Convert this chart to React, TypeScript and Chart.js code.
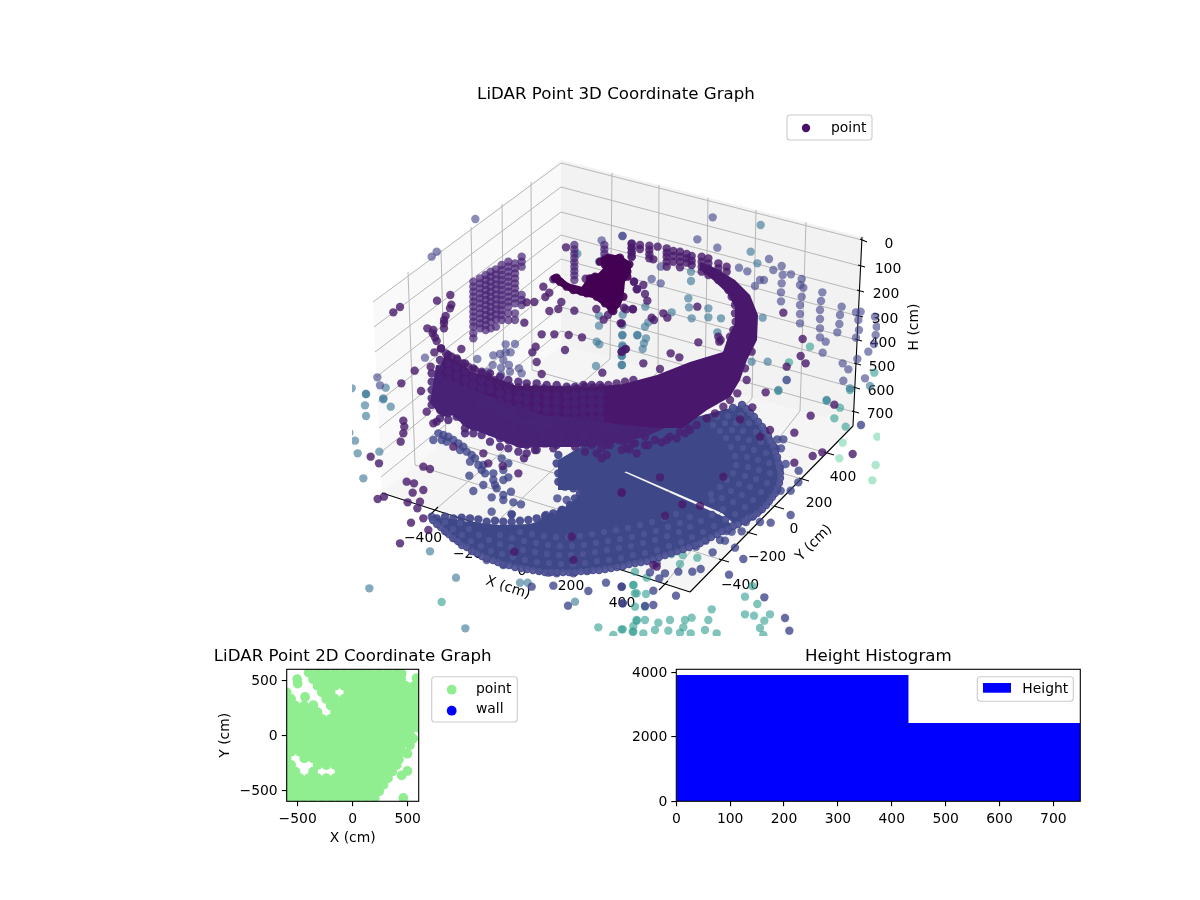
import React, { useEffect, useRef } from "react";
import { Chart, registerables } from "chart.js";

Chart.register(...registerables);
Chart.defaults.font.family = '"DejaVu Sans"';
Chart.defaults.font.size = 13.9;
Chart.defaults.color = "#000";

type P = [number, number];
type Seg = [number, number, number, number];

/* ---------- 2D plan view: each row is one Y value and the X values read along it ---------- */
const planRows: [number, number[]][] = [
  [570, [-400,-320,-240,-160,-80,0,80,160,240,320,400]],
  [510, [-360,-280,-200,-120,-40,40,120,200,280,360,440]],
  [450, [-320,-240,-160,-80,0,80,160,240,320,400,480,560]],
  [390, [-600,-280,-200,-40,40,120,200,280,360,440,520,600]],
  [330, [-560,-240,-160,-80,0,80,160,240,320,400,480,560]],
  [270, [-600,-520,-440,-200,-120,-40,40,120,200,280,360,440,520,600]],
  [210, [-560,-480,-400,-320,-160,-80,0,80,160,240,320,400,480,560]],
  [150, [-600,-520,-440,-360,-280,-200,-120,-40,40,120,200,280,360,440,520,600]],
  [90, [-560,-480,-400,-320,-240,-160,-80,0,80,160,240,320,400,480,560]],
  [30, [-600,-520,-440,-360,-280,-200,-120,-40,40,120,200,280,360,440,520]],
  [-30, [-560,-480,-400,-320,-240,-160,-80,0,80,160,240,320,400,480]],
  [-90, [-600,-520,-440,-360,-280,-200,-120,-40,40,120,200,280,360,440,520]],
  [-150, [-560,-480,-400,-320,-240,-160,-80,0,80,160,240,320,400,445]],
  [-210, [-600,-440,-360,-280,-200,-120,-40,40,120,200,280,360]],
  [-270, [-560,-320,-240,-160,-80,0,80,160,240,320,400]],
  [-330, [-600,-520,-360,-120,-40,40,120,200,280,360]],
  [-390, [-560,-480,-400,-320,-240,-160,-80,0,80,160,240,320]],
  [-450, [-600,-520,-440,-360,-280,-200,-120,-40,40,120,200,280]],
  [-510, [-560,-480,-400,-320,-240,-160,-80,0,80,160,240]],
  [-570, [-600,-520,-440,-360,-280,-200,-120,-40,40,120,200]],
];
const planExtras: P[] = [[445,560],[580,520],[-500,470],[-505,510],[-433,348],[-358,273],[590,70],[551,-30],[497,-167],[420,-220],[497,-324],[445,-364],[460,-570]];
const planTicks = [-500, 0, 500];

/* ---------- histogram ---------- */
const binEdges = [0, 431, 750];
const binCounts = [3910, 2425];
const histXTicks = [0, 100, 200, 300, 400, 500, 600, 700];
const histYTicks = [0, 2000, 4000];

/* ---------- 3D view: panes, grid and axes in view-plane units ---------- */
const paneLeft: P[] = [[373,302],[561,160],[561,345],[382,493],[373,302]];
const paneBack: P[] = [[561,160],[862,237],[853,426],[561,345],[561,160]];
const paneFloor: P[] = [[382,493],[561,345],[853,426],[690,592],[382,493]];
const gridBackH: Seg[] = [[561,163,862,240],[561,187,860,266],[561,212,859,291],[561,235,858,316],[561,259,857,340],[561,283,856,364],[561,307,855,388],[561,331,854,412]];
const gridLeftH: Seg[] = [[561,163,373,302],[561,187,374,327],[561,212,375,352],[561,235,376,377],[561,259,378,402],[561,283,379,428],[561,307,380,453],[561,331,381,477]];
const gridBackV: Seg[] = [[612,173,610,359],[659,185,658,372],[708,198,705,385],[756,210,752,398],[806,222,800,411]];
const gridLeftV: Seg[] = [[408,272,415,465],[441,250,446,440],[471,227,475,416],[502,204,504,392],[531,182,532,370]];
const gridFloorY: Seg[] = [[415,465,722,560],[446,440,750,533],[475,416,777,507],[504,392,802,479],[532,370,827,453]];
const gridFloorX: Seg[] = [[435,510,610,359],[490,528,658,372],[545,545,705,385],[604,564,752,398],[665,584,800,411]];
const axisEdges: Seg[] = [[382,493,690,592],[690,592,853,426],[853,426,862,237]];
const ticksH: Seg[] = [[860,239,867,242],[858,265,865,267],[857,290,864,292],[856,315,863,317],[855,339,862,341],[854,363,861,365],[853,387,860,389],[852,411,859,413]];
const ticksX: Seg[] = [[438,507,429,516],[493,525,484,534],[548,542,539,551],[607,561,598,570],[668,581,659,590]];
const ticksY: Seg[] = [[719,559,729,562],[747,532,757,535],[774,506,784,509],[799,478,809,481],[824,452,834,455]];
const labelsH: [string, number, number][] = [["0",889,243],["100",888,268],["200",886,293],["300",885,318],["400",883,342],["500",882,366],["600",881,390],["700",880,413]];
const labelsX: [string, number, number][] = [["\u2212400",423,537],["\u2212200",472,553],["0",522,570],["200",571,585],["400",622,602]];
const labelsY: [string, number, number][] = [["\u2212400",740,584],["\u2212200",767,556],["0",794,528],["200",819,502],["400",843,476]];

/* ---------- 3D view: solid masses of overlapping points ---------- */
const ringMass: P[] = [[445,355],[460,363],[473,373],[490,376],[517,386],[553,386],[590,387],[623,384],[657,375],[690,362],[723,352],[727,340],[735,323],[735,307],[727,293],[713,280],[700,270],[700,262],[715,268],[735,280],[750,295],[758,315],[757,340],[747,360],[740,380],[730,397],[707,410],[683,428],[657,428],[623,425],[590,420],[567,417],[552,416],[543,415],[520,408],[508,405],[497,399],[487,395],[477,391],[453,383],[437,373],[445,355]];
const ringSkirt: P[] = [[436,365],[470,378],[520,395],[600,405],[660,415],[665,428],[645,437],[638,429],[648,430],[646,433],[645,437],[620,442],[612,428],[620,427],[625,431],[615,431],[620,442],[600,446],[577,447],[548,447],[548,416],[553,419],[548,421],[543,419],[548,416],[548,447],[520,448],[510,408],[515,411],[510,413],[505,411],[510,408],[520,448],[500,440],[490,398],[496,401],[490,404],[484,401],[490,398],[500,440],[480,432],[467,428],[452,415],[442,417],[430,403],[436,365]];
const discUpper: P[] = [[558,460],[600,436],[650,432],[700,416],[742,405],[750,413],[758,422],[765,431],[770,441],[775,452],[778,463],[780,473],[779,483],[775,493],[769,501],[762,509],[753,516],[744,521],[733,523],[722,513],[626,471.5],[600,488],[590,490],[558,490],[558,472],[577,470],[592,473],[578,476],[558,472],[558,460]];
const discLower: P[] = [[626,473],[722,516],[733,526],[722,531],[711,537],[700,543],[689,547],[677,551],[665,555],[653,559],[641,562],[629,564],[617,567],[605,569],[593,570],[581,571],[569,572],[557,572],[545,572],[533,570],[521,568],[509,565],[498,562],[487,558],[477,553],[467,547],[458,541],[449,534],[441,527],[433,520],[445,518],[470,522],[500,525],[530,524],[555,515],[578,497],[590,480],[610,466],[626,473]];
const peakMassZ: P[] = [[40,125],[55,120],[85,145],[125,155],[150,120],[175,115],[190,100],[180,70],[205,60],[240,60],[275,85],[270,120],[255,140],[250,190],[240,215],[215,235],[195,215],[160,190],[120,180],[90,170],[55,150],[35,135],[40,125]];

/* ---------- 3D view: fan rows of the lower disc ---------- */
const discRowOuter: P[] = [[433,520],[441,527],[449,534],[458,541],[467,547],[477,553],[487,558],[498,562],[509,565],[521,568],[533,570],[545,572],[557,572],[569,572],[581,571],[593,570],[605,569],[617,567],[629,564],[641,562],[653,559],[665,555],[677,551],[689,547],[700,543],[711,537],[722,531],[733,526],[744,521],[753,516],[762,509],[769,501],[775,493],[779,483],[780,473],[778,463],[775,452],[770,441],[765,431],[758,422],[750,413],[742,405]];
const discRowEdge: P[] = [[437,524],[445,531],[453,538],[462,545],[472,551],[482,556],[493,560],[503,564],[515,567],[527,569],[539,571],[551,572],[563,572],[575,572],[587,571],[599,570],[611,568],[623,566],[635,563],[647,561],[659,557],[671,553],[683,549],[695,545],[705,540],[717,534],[728,529],[738,524],[748,518],[757,513],[766,505],[772,497],[777,488],[780,478],[779,468],[777,457],[773,446],[768,436],[762,427],[754,417],[746,409]];
const discRowMiddle: P[] = [[445,522],[453,529],[462,535],[471,541],[481,546],[491,551],[502,554],[513,557],[525,560],[537,562],[549,563],[561,564],[573,564],[585,563],[597,561],[609,560],[621,558],[633,555],[645,553],[657,550],[669,546],[681,542],[692,537],[703,532],[714,526],[725,520],[735,514],[745,507],[753,500],[761,492],[767,483],[770,473],[769,463],[766,453],[761,442],[756,432],[749,423],[741,415],[733,408]];
const discRowInner: P[] = [[460,523],[469,529],[479,535],[489,540],[500,544],[511,547],[523,550],[535,552],[547,554],[559,555],[571,555],[583,554],[595,552],[607,550],[619,548],[631,546],[643,543],[655,540],[667,536],[679,532],[690,527],[701,521],[712,515],[723,509],[733,502],[742,495],[750,487],[756,479],[759,470],[758,460],[754,450],[749,440],[743,431],[736,423],[728,416]];
const discRowFourth: P[] = [[500,535],[512,538],[524,541],[536,543],[548,545],[560,546],[572,546],[584,545],[596,543],[608,541],[620,539],[632,537],[644,534],[656,531],[668,527],[680,523],[690,517],[712,500],[722,498],[731,491],[739,484],[745,476],[748,467],[747,457],[743,448],[738,438],[732,430],[725,423],[717,417]];
const discRowFifth: P[] = [[520,532],[532,534],[544,536],[556,537],[568,537],[580,536],[592,534],[604,532],[616,530],[628,528],[640,525],[652,522],[664,518],[676,514],[711,494],[720,487],[727,480],[733,473],[736,465],[735,456],[731,447],[726,438],[720,431],[713,425]];

/* ---------- 3D view: individual points, each list in third-of-a-unit steps from its crop origin ---------- */
const originA: P = [340,150], originB: P = [620,150], originC: P = [340,390], originD: P = [620,390];
const originE: P = [420,340], originF: P = [590,340], originG: P = [540,235], originH: P = [540,450];

const discEdgeH: P[] = [[55,15],[50,40],[55,70],[55,95],[75,110],[100,115],[130,120],[125,145],[105,170],[85,180],[60,190],[35,200],[10,215]];
const discEdgeC: P[] = [[290,385],[315,380],[340,385],[365,383],[390,385],[415,388],[440,395],[465,392],[490,395],[515,395],[540,392],[565,390],[590,385],[615,378],[640,370],[665,360],[690,345],[705,325],[720,310]];
const ringColumnsE: [number, number[]][] = [
  [35,[100,125,150,175,195]],[60,[60,85,110,135,160,185,210,235]],[85,[45,70,95,120,145,170,195,220,240]],
  [110,[55,80,105,130,155,180,205,230]],[135,[70,95,120,145,170,195,220,245,265,280]],[160,[85,110,135,160,185,210,235,260,280]],
  [185,[95,120,145,170,215,240,265,285]],[210,[100,125,150,225,250,275,305]],[240,[110,135,160,185,240,265,295,320]],
  [265,[120,145,170,195,250,275,300,325]],[295,[125,150,175,200,225,260,285,310,335]],[320,[130,155,180,205,230,265,290,315,340]],
  [350,[130,155,180,205,230,280,305,330]],[380,[135,160,185,210,280,310]],[410,[135,160,185,210,235,260,290,315]],
  [440,[140,165,190,215,240,265,300]],[465,[140,165,190,215,240,270,295,320]],[490,[135,160,185,210,235,265,305]],
  [515,[135,160,185,210,235,260,305]],[540,[135,160,185,210,235,255,295]],
];
const ringLowF: P[] = [[5,290],[5,315],[25,300],[50,290],[50,315],[75,295],[100,280],[100,305],[130,285],[130,310],[165,290],[165,315],[195,300],[230,300],[260,295],[285,280],[300,270],[20,340],[50,345]];
const ringLowC: P[] = [[552,160],[552,205],[585,150],[585,180],[612,160],[640,135],[640,175],[680,125],[680,155],[708,140],[735,155],[735,185],[760,135],[785,175],[785,205],[810,140],[810,165],[835,150],[860,150],[860,175],[885,130],[885,160],[900,125]];
const ringLowD: P[] = [[5,180],[28,178],[50,190],[85,165],[125,157],[150,140],[180,125],[205,115],[230,105]];
const purpleA: P[] = [[160,487],[180,471],[291,452],[331,435],[334,464],[330,475],[317,498],[312,510],[312,520],[312,535],[262,535],[280,540],[278,550],[285,562],[290,573],[303,595],[283,607],[364,597],[272,650],[224,662],[184,700],[243,723],[553,518],[605,553],[643,553],[686,555],[726,562],[675,600],[577,607],[587,590],[590,636],[605,672],[787,668],[855,598],[845,605],[610,410],[628,428],[616,441],[664,456],[655,477],[628,483],[703,482],[769,477],[791,509],[804,495],[842,520],[858,478],[879,478],[882,395],[890,418],[560,457],[583,456],[678,292],[737,386],[640,388]];
const purpleB: P[] = [[232,470],[130,490],[142,503],[95,503],[102,510],[490,488],[548,567],[235,577],[295,560],[298,575],[302,570],[152,610],[178,622],[70,640],[120,657],[542,618],[557,640],[500,650],[380,690],[437,727],[42,395],[52,417],[70,405],[75,432],[82,452],[38,477],[12,473],[5,520],[18,597],[5,605],[395,605],[375,655],[35,282],[35,295],[35,308],[35,320],[60,285],[60,297],[88,287],[88,300],[88,313],[88,325],[113,290],[100,328],[140,295],[140,308],[140,320],[140,335],[140,350],[160,303],[160,318],[160,335],[180,305],[180,320],[180,335],[180,352],[200,312],[200,325],[200,338],[215,318],[215,332],[215,345],[245,320],[245,335],[245,350],[245,365],[265,325],[265,340],[265,355],[265,375],[295,340],[295,355],[295,370],[295,390],[320,350],[320,365],[320,390],[325,420],[335,440],[345,465],[345,490],[347,515],[340,540],[330,560],[340,570]];
const purpleC: P[] = [[190,92],[193,110],[190,130],[182,155],[92,200],[117,220],[250,230],[270,237],[200,275],[222,280],[218,308],[250,300],[240,335],[203,337],[232,355],[250,385],[213,398],[265,420],[180,460],[280,100],[290,95],[260,65],[340,170],[430,190],[488,228],[535,250],[445,220],[695,440],[523,485],[700,510],[845,308],[113,327],[132,320]];
const purpleD: P[] = [[397,52],[360,88],[572,77],[643,44],[523,128],[450,120],[420,140],[607,187],[578,198],[698,192],[523,218],[310,260],[187,343],[240,347],[135,377],[5,307],[120,262],[110,530],[100,525],[260,85],[285,70],[310,50],[330,30],[352,10]];
const ringTopA: P[] = [[303,595],[318,610],[335,620],[352,630],[368,640],[385,650],[405,660],[425,670],[445,680],[465,690],[485,700],[510,708],[535,712],[560,712],[585,715],[610,715],[635,718],[660,718],[685,718],[710,715],[735,710],[760,712],[785,712],[805,705],[830,700],[855,695],[880,690]];
const backColumnsA: P[] = [[400,395],[400,410],[400,425],[400,440],[400,455],[400,470],[400,485],[400,500],[400,515],[400,530],[400,550],[400,565],[420,385],[420,400],[420,415],[420,430],[420,445],[420,460],[420,475],[420,490],[420,505],[420,520],[420,535],[437,375],[437,390],[437,405],[437,420],[437,435],[437,450],[437,465],[437,480],[437,495],[437,510],[437,525],[437,540],[452,365],[452,380],[452,395],[452,410],[452,425],[452,440],[452,455],[452,470],[452,485],[452,500],[452,515],[452,535],[468,358],[468,373],[468,388],[468,403],[468,418],[468,433],[468,448],[468,463],[468,478],[468,493],[468,508],[468,530],[485,345],[485,360],[485,375],[485,390],[485,405],[485,420],[485,435],[485,450],[485,465],[485,480],[485,495],[485,510],[505,335],[505,350],[505,365],[505,380],[505,395],[505,410],[505,425],[505,440],[505,455],[505,470],[505,490],[505,510],[525,340],[525,355],[525,370],[525,385],[525,400],[525,415],[525,430],[525,445],[525,460],[525,490],[525,510],[545,320],[545,335],[545,350],[545,435],[545,450],[545,465],[703,285],[703,298],[703,311],[703,324],[703,337],[703,350],[703,363],[703,376],[703,390],[793,285],[793,298],[793,311],[793,325],[875,280],[875,293],[875,306],[875,320]];
const peakG: P[] = [[45,130],[60,140],[80,155],[100,165],[125,170],[150,130],[165,125],[195,90],[195,75],[215,70],[235,70],[260,90],[262,110],[245,130],[240,160],[235,190],[225,210],[215,225],[195,205],[170,185],[140,175],[50,128],[180,80],[205,68],[240,68],[268,88],[262,125],[250,185],[220,228]];
const slateA: P[] = [[406,207],[275,320],[290,305],[255,623],[412,627],[785,271],[847,258],[497,583],[525,582],[480,612],[460,616],[497,607],[512,607],[490,630],[458,645],[483,653],[507,645],[537,655],[510,665],[545,670],[483,675],[444,665],[112,682],[120,706]];
const slateB: P[] = [[278,202],[232,268],[292,293],[447,327],[485,348],[460,360],[488,375],[513,373],[357,353],[382,364],[405,408],[420,390],[432,390],[545,387],[485,400],[540,405],[550,413],[483,427],[545,440],[483,454],[607,427],[603,453],[665,470],[540,465],[600,480],[660,495],[540,492],[600,507],[658,522],[540,520],[600,535],[652,547],[600,562],[617,575],[708,487],[722,485],[715,510],[765,500],[770,530],[717,540],[767,555],[708,563],[762,582],[608,608],[668,640],[712,627],[745,605],[685,658],[670,692],[735,685],[500,690],[122,350],[95,387],[122,400],[8,258]];
const slateC: P[] = [[295,130],[310,135],[325,140],[340,150],[355,160],[370,170],[380,185],[395,195],[405,205],[415,225],[425,240],[435,250],[280,150],[305,150],[320,155],[360,180],[390,215],[430,225],[460,250],[460,270],[490,240],[505,220],[485,205],[505,262],[490,270],[430,285],[465,285],[470,295],[400,303],[455,322],[490,315],[513,305],[490,330],[520,337],[543,343],[455,365],[515,373],[388,257],[275,380],[300,395],[320,425],[345,445],[360,455],[440,510],[490,525],[600,540],[625,548],[650,550],[700,550],[745,540],[798,578],[745,603],[640,587],[575,590],[684,647],[848,640],[845,590],[652,325],[680,330],[668,360],[618,375],[515,373]];
const slateD: P[] = [[168,617],[100,602],[100,645],[75,648],[433,622],[495,684],[508,722],[8,640],[5,590],[217,545],[242,537],[175,545],[135,550],[90,547],[110,520],[118,565],[327,554],[370,507],[345,473],[452,398],[420,396],[512,375],[278,487],[300,450],[315,452],[257,452],[228,470],[320,423],[335,425],[365,424],[378,396],[397,380],[417,362],[375,373],[723,105],[535,277],[536,242],[497,222],[470,210],[480,235],[467,175],[483,175],[490,148],[472,148],[482,302],[470,300],[512,302],[452,312]];
const blueA: P[] = [[777,335],[712,311],[777,497],[848,494],[777,527],[847,525],[847,556],[892,556],[770,575],[778,583],[847,586],[846,617],[846,645],[768,648],[35,715],[78,732],[137,713],[130,745]];
const blueB: P[] = [[422,225],[392,305],[412,340],[213,365],[213,393],[205,445],[207,472],[265,475],[155,487],[215,505],[265,502],[303,505],[428,503],[85,517],[75,530],[292,547],[52,555],[78,565],[72,580],[68,597],[7,555],[8,590],[5,617],[5,645],[395,635],[443,635],[500,690],[475,720],[620,750],[690,715],[750,708],[76,470]];
const blueC: P[] = [[78,12],[130,28],[75,46],[152,50],[78,78],[45,152],[118,185],[53,190],[70,265],[28,128],[270,484],[348,563],[376,715],[88,595],[540,578],[563,578],[705,635]];
const tealC: P[] = [[305,636],[775,712],[845,718],[820,735],[880,725],[885,610],[885,650],[890,690],[880,585]];
const tealD: P[] = [[620,32],[660,53],[643,85],[677,110],[475,3],[690,0],[45,545],[40,585],[50,610],[78,612],[75,650],[50,692],[75,690],[115,698],[150,690],[195,690],[215,683],[265,690],[275,658],[8,718],[40,708],[38,725],[70,730],[105,720],[145,722],[190,712],[180,728],[255,720],[290,730],[212,730],[375,620],[412,642],[375,673],[402,677],[450,673],[433,692],[420,714],[430,735],[397,588],[80,563],[155,492],[188,495],[232,503],[180,522]];
const tealB: P[] = [[570,590],[507,637],[763,668]];
const mintD: P[] = [[668,158],[658,205],[767,225],[757,271],[772,140]];

const fromCrop = (o: P, pts: P[]) => pts.map(([a, b]) => ({ x: o[0] + a / 3, y: o[1] + b / 3 }));
const direct = (pts: P[]) => pts.map(([x, y]) => ({ x, y }));
const segments = (list: Seg[]) =>
  list.flatMap(([a, b, c, d]) => [{ x: a, y: b }, { x: c, y: d }, { x: NaN, y: NaN }]);
const minus = (v: number | string) => String(v).replace("-", "\u2212");
const columnPoints = (cols: [number, number[]][]): P[] => cols.flatMap(([x, ys]) => ys.map((y) => [x, y] as P));

/* ---------- plugins: frame, matplotlib-looking legend, title wider than its axes ---------- */
const framePlugin = {
  id: "frame",
  afterDraw(chart: any) {
    const a = chart.chartArea, c = chart.ctx;
    if (!chart.options.plugins.frame?.show) return;
    c.save(); c.strokeStyle = "#000"; c.lineWidth = 1.1;
    c.strokeRect(a.left, a.top, a.right - a.left, a.bottom - a.top);
    c.restore();
  },
};
const wideTitlePlugin = {
  id: "wideTitle",
  afterLayout(chart: any) {
    if (chart.titleBlock) { chart.titleBlock.left -= 150; chart.titleBlock.right += 150; }
  },
};
const boxLegendPlugin = {
  id: "boxLegend",
  afterDraw(chart: any) {
    const o = chart.options.plugins.boxLegend;
    if (!o || !o.box) return;
    const c = chart.ctx, [x0, y0, x1, y1] = o.box;
    c.save();
    c.beginPath(); c.roundRect(x0, y0, x1 - x0, y1 - y0, 3);
    c.fillStyle = "rgba(255,255,255,0.8)"; c.fill();
    c.strokeStyle = "#ccc"; c.lineWidth = 1.1; c.stroke();
    c.font = '13.9px "DejaVu Sans"'; c.textBaseline = "middle"; c.fillStyle = "#000";
    for (const e of o.entries) {
      c.fillStyle = e.color;
      if (e.patch) c.fillRect(e.patch[0], e.patch[1], e.patch[2], e.patch[3]);
      else { c.beginPath(); c.arc(e.mx, e.my, e.r, 0, Math.PI * 2); c.fill(); }
      c.fillStyle = "#000"; c.fillText(e.text, e.tx, e.ty);
    }
    c.restore();
  },
};
const sceneTextPlugin = {
  id: "sceneText",
  beforeDatasetsDraw(chart: any) {
    const o = chart.options.plugins.sceneText;
    if (!o || !o.items) return;
    const c = chart.ctx, sx = chart.scales.x, sy = chart.scales.y;
    c.save(); c.fillStyle = "#000"; c.textAlign = "center"; c.textBaseline = "middle";
    c.font = '13.9px "DejaVu Sans"';
    for (const [t, u, v, rot] of o.items) {
      c.save(); c.translate(sx.getPixelForValue(u), sy.getPixelForValue(v) + 1);
      if (rot) c.rotate((rot * Math.PI) / 180);
      c.fillText(t, 0, 0); c.restore();
    }
    c.restore();
  },
};

const line = (data: any[], color: string, width: number, order: number) => ({
  data, showLine: true, borderColor: color, borderWidth: width, pointRadius: 0, spanGaps: false, order, tension: 0, fill: false,
});
const mass = (data: any[], color: string, order: number) => ({
  data, showLine: true, borderWidth: 0, borderColor: color, backgroundColor: color, pointRadius: 0, fill: "shape", order, tension: 0,
});
const dots = (data: any[], color: string, order: number, r = 4.2) => ({
  data, pointRadius: r, pointBackgroundColor: color, pointBorderWidth: 0, pointHoverRadius: r, order,
});

const C_PEAK = "rgba(68,1,84,0.9)";
const C_RING = "rgba(72,26,108,0.8)";
const C_RINGS = "rgb(73,24,108)";
const C_SKIRT = "rgb(72,36,118)";
const C_RINGLOW = "rgba(72,34,118,0.85)";
const C_COL = "rgba(72,36,118,0.7)";
const C_DISC = "rgb(62,72,136)";
const C_FAN = "rgba(62,66,136,0.9)";
const C_GLINT = "rgba(112,114,174,0.3)";
const C_SLATE = "rgba(68,68,138,0.62)";
const C_SLATE2 = "rgba(60,66,136,0.78)";
const C_BLUE = "rgba(58,118,150,0.62)";
const C_TEAL = "rgba(52,160,145,0.62)";
const C_MINT = "rgba(110,212,165,0.55)";

function make3D(canvas: HTMLCanvasElement) {
  const allRows = [...direct(discRowOuter), ...direct(discRowEdge), ...direct(discRowMiddle), ...direct(discRowInner)];
  return new Chart(canvas, {
    type: "scatter",
    data: {
      datasets: [
        mass(direct(paneLeft), "#f9f9f9", 100),
        mass(direct(paneBack), "#f2f2f2", 99),
        mass(direct(paneFloor), "#f5f5f5", 98),
        line(segments([...gridBackH, ...gridLeftH, ...gridBackV, ...gridLeftV, ...gridFloorY, ...gridFloorX]), "#b8b8b8", 1, 97),
        line(segments([...axisEdges, ...ticksH, ...ticksX, ...ticksY]), "#000", 1.1, 96),
        dots(fromCrop(originD, mintD), C_MINT, 60),
        dots([...fromCrop(originC, tealC), ...fromCrop(originD, tealD), ...fromCrop(originB, tealB)], C_TEAL, 59),
        dots([...fromCrop(originA, blueA), ...fromCrop(originB, blueB), ...fromCrop(originC, blueC)], C_BLUE, 58),
        dots([...fromCrop(originA, slateA), ...fromCrop(originB, slateB)], C_SLATE, 57),
        dots([...fromCrop(originC, slateC), ...fromCrop(originD, slateD)], C_SLATE2, 56),
        dots(fromCrop(originA, backColumnsA), C_COL, 55),
        dots([...allRows, ...fromCrop(originH, discEdgeH), ...fromCrop(originC, discEdgeC)], C_FAN, 52),
        mass(direct(discUpper), C_DISC, 50),
        mass(direct(discLower), C_DISC, 49),
        dots([...allRows, ...direct(discRowFourth), ...direct(discRowFifth)], C_GLINT, 48, 3.1),
        mass(direct(ringSkirt), C_SKIRT, 44),
        mass(direct(ringMass), C_RINGS, 42),
        dots([...fromCrop(originF, ringLowF), ...fromCrop(originC, ringLowC), ...fromCrop(originD, ringLowD)], C_RINGLOW, 41),
        dots(fromCrop(originE, columnPoints(ringColumnsE)), C_RINGLOW, 40),
        dots([...fromCrop(originA, purpleA), ...fromCrop(originB, purpleB), ...fromCrop(originC, purpleC), ...fromCrop(originD, purpleD), ...fromCrop(originA, ringTopA)], C_RING, 39),
        mass(fromCrop(originG, peakMassZ), "rgb(68,1,84)", 30),
        dots(fromCrop(originG, peakG), C_PEAK, 29),
      ] as any,
    },
    options: {
      responsive: false, animation: false, events: [],
      layout: { padding: { left: 352, right: 320, top: 85, bottom: 264 } },
      scales: {
        x: { type: "linear", display: false, min: 352, max: 880 },
        y: { type: "linear", display: false, min: 108, max: 636, reverse: true },
      },
      plugins: {
        legend: { display: false }, tooltip: { enabled: false },
        title: { display: true, text: "LiDAR Point 3D Coordinate Graph", font: { size: 16.67, weight: "normal" }, color: "#000", padding: { top: 0, bottom: 3 }, fullSize: false },
        sceneText: { items: [
          ...labelsH.map((l) => [...l, 0]), ...labelsX.map((l) => [...l, 0]), ...labelsY.map((l) => [...l, 0]),
          ["H (cm)", 914, 326, -90], ["X (cm)", 508, 587, 18], ["Y (cm)", 814, 542, -45],
        ] },
        boxLegend: { box: [787, 115, 872, 140], entries: [{ text: "point", color: "#48126a", mx: 806, my: 128, r: 4.2, tx: 831, ty: 128 }] },
      } as any,
    },
    plugins: [sceneTextPlugin, boxLegendPlugin],
  });
}

const fixedAxis = (ticks: number[], min: number, max: number, size: number, vertical: boolean, title?: string) => ({
  type: "linear", min, max,
  afterBuildTicks: (s: any) => { s.ticks = ticks.map((value) => ({ value })); },
  afterFit: (s: any) => { if (s.isHorizontal()) s.height = size; else s.width = size; },
  border: { display: false },
  grid: { drawOnChartArea: false, tickLength: 5, color: "#000", lineWidth: 1.1 },
  ticks: { autoSkip: false, maxRotation: 0, minRotation: 0, padding: vertical ? 4 : 5, labelOffset: vertical ? 1 : 0, font: { size: 13.9 }, color: "#000", callback: (v: any) => minus(v) },
  title: title ? { display: true, text: title, font: { size: 13.9 }, color: "#000", padding: 0 } : { display: false },
});

function make2D(canvas: HTMLCanvasElement) {
  const planPoints = [...planRows.flatMap(([y, xs]) => xs.map((x) => ({ x, y }))), ...planExtras.map(([x, y]) => ({ x, y }))];
  return new Chart(canvas, {
    type: "scatter",
    data: { datasets: [{ data: planPoints, pointRadius: 4.9, pointBackgroundColor: "#90ee90", pointBorderWidth: 0 }] as any },
    options: {
      responsive: false, animation: false, events: [],
      layout: { padding: { left: 286.7 - 70, right: 705 - 418.7, top: 646.3, bottom: 900 - 801.3 - 45 } },
      scales: {
        x: fixedAxis(planTicks, -600, 600, 45, false, "X (cm)") as any,
        y: fixedAxis(planTicks, -600, 600, 70, true, "Y (cm)") as any,
      },
      plugins: {
        legend: { display: false }, tooltip: { enabled: false },
        title: { display: true, text: "LiDAR Point 2D Coordinate Graph", font: { size: 16.67, weight: "normal" }, color: "#000", padding: { top: 0, bottom: 3 }, fullSize: false },
        frame: { show: true },
        boxLegend: { box: [431.7, 676.7, 517.3, 722], entries: [
          { text: "point", color: "#90ee90", mx: 451.7, my: 689.7, r: 4.9, tx: 476, ty: 689 },
          { text: "wall", color: "#0000ff", mx: 451.7, my: 710.7, r: 4.9, tx: 476, ty: 709 },
        ] },
      } as any,
    },
    plugins: [framePlugin, boxLegendPlugin, wideTitlePlugin],
  });
}

function makeHist(canvas: HTMLCanvasElement) {
  const steps = binCounts.flatMap((c, i) => [{ x: binEdges[i], y: c }, { x: binEdges[i + 1], y: c }]);
  return new Chart(canvas, {
    type: "scatter",
    data: { datasets: [{ data: steps, showLine: true, tension: 0, borderWidth: 0, pointRadius: 0, backgroundColor: "#0000ff", borderColor: "#0000ff", fill: "origin" }] as any },
    options: {
      responsive: false, animation: false, events: [],
      layout: { padding: { left: 676.3 - 50, right: 1200 - 1080.3, top: 646.3, bottom: 900 - 801.3 - 30 } },
      scales: {
        x: fixedAxis(histXTicks, 0, 750, 30, false) as any,
        y: fixedAxis(histYTicks, 0, 4090, 50, true) as any,
      },
      plugins: {
        legend: { display: false }, tooltip: { enabled: false },
        title: { display: true, text: "Height Histogram", font: { size: 16.67, weight: "normal" }, color: "#000", padding: { top: 0, bottom: 3 }, fullSize: false },
        frame: { show: true },
        boxLegend: { box: [977.3, 676.7, 1073.3, 701.3], entries: [
          { text: "Height", color: "#0000ff", patch: [983, 683, 28, 9.7], tx: 1022.3, ty: 689 },
        ] },
      } as any,
    },
    plugins: [framePlugin, boxLegendPlugin],
  });
}

const canvasStyle: React.CSSProperties = { position: "absolute", left: 0, top: 0 };

export default function App() {
  const a = useRef<HTMLCanvasElement>(null);
  const b = useRef<HTMLCanvasElement>(null);
  const c = useRef<HTMLCanvasElement>(null);
  useEffect(() => {
    const charts = [make3D(a.current!), make2D(b.current!), makeHist(c.current!)];
    return () => charts.forEach((x) => x.destroy());
  }, []);
  return (
    <div style={{ position: "absolute", left: 0, top: 0, width: 1200, height: 900, background: "#fff", overflow: "hidden" }}>
      <canvas ref={a} width={1200} height={900} style={{ ...canvasStyle, width: 1200, height: 900 }} />
      <canvas ref={b} width={705} height={900} style={{ ...canvasStyle, width: 705, height: 900 }} />
      <canvas ref={c} width={1200} height={900} style={{ ...canvasStyle, width: 1200, height: 900 }} />
    </div>
  );
}
